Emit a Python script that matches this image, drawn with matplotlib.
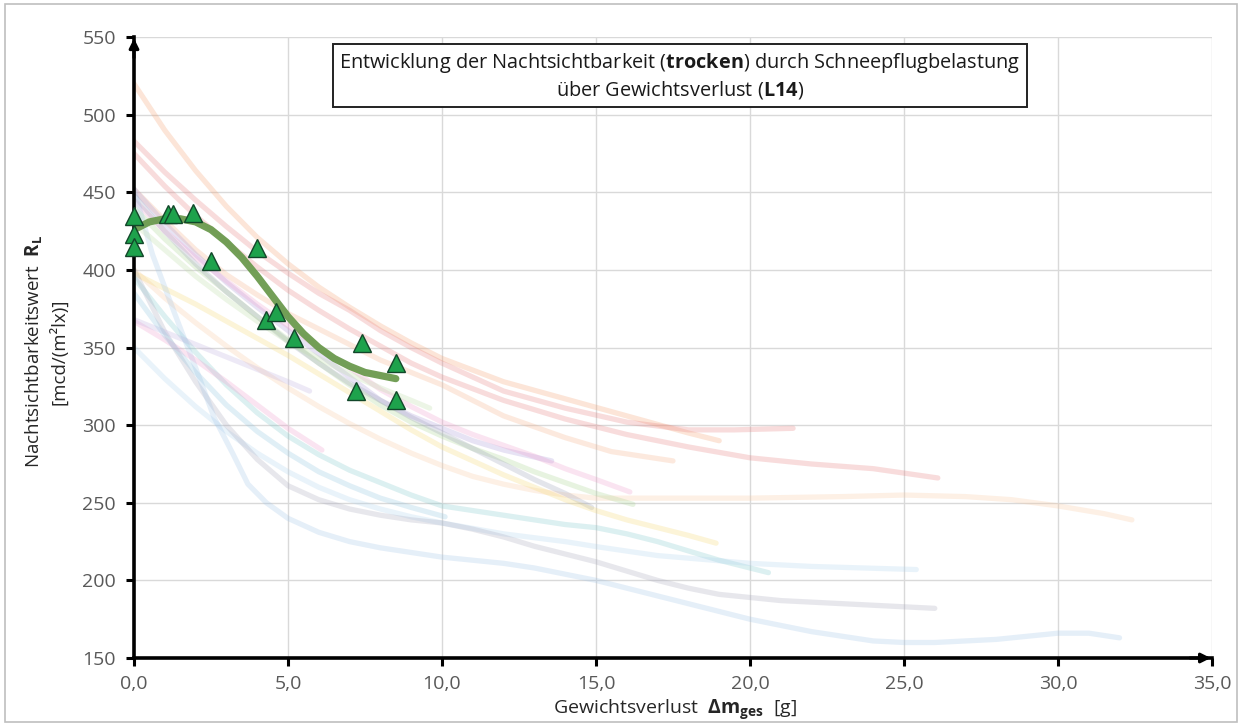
import matplotlib
matplotlib.use('Agg')
import matplotlib.pyplot as plt
from matplotlib.patches import Rectangle

plt.rcParams['font.family'] = ['Open Sans', 'DejaVu Sans']
plt.rcParams['mathtext.fontset'] = 'custom'
plt.rcParams['mathtext.rm'] = 'Open Sans'
plt.rcParams['mathtext.bf'] = 'Open Sans:bold'

# measured points L14 (dry)
mess_x = [0.0, 0.0, 0.0, 1.1, 1.25, 1.9, 2.5, 4.0, 4.3, 4.6, 5.2, 7.4, 7.2, 8.5, 8.5]
mess_y = [435, 423, 415, 436, 436, 437, 406, 414, 368, 373, 356, 353, 322, 340, 316]

# trend line L14
trend_x = [0.0, 0.5, 1.0, 1.5, 2.0, 2.5, 3.0, 3.5, 4.0, 4.5, 5.0, 5.5, 6.0, 6.5, 7.0, 7.5, 8.0, 8.5]
trend_y = [426, 431, 433, 433, 431, 426, 418, 408, 396, 383, 370, 359, 350, 343, 338, 334, 332, 330]

# other (faded) curves
kurven_x = {
    'orange_oben': [0, 1, 2, 3, 4, 5, 6, 7, 8, 9, 10, 12, 14, 16, 18, 19],
    'rot_a': [0, 1, 2, 3, 4, 5, 6, 7, 8, 9, 10, 12, 14, 16, 18, 19.5, 21.4],
    'rot_b': [0, 1, 2, 3, 4, 5, 6, 7, 8, 9, 10, 12, 14, 16, 18, 20, 22, 24, 26.1],
    'orange_mitte': [0, 1, 2, 3, 4, 5, 6, 7, 8, 9, 10, 12, 14, 15.5, 17.5],
    'orange_lang': [0, 1, 2, 3, 4, 5, 6, 7, 8, 9, 10, 11, 12, 13, 14, 15, 17, 20, 23, 25,
                    27, 28.5, 30, 31.5, 32.4],
    'lila': [0, 1, 2, 3, 4, 5, 6, 7, 8, 9, 10, 11, 12, 13.56],
    'rosa_a': [0, 1, 2, 3, 4, 5, 6, 7, 8, 9, 10, 11, 12, 13, 14, 15, 16.1],
    'gruen': [0, 1, 2, 3, 4, 5, 6, 7, 8, 9, 10, 11, 12, 13, 14, 15, 16.2],
    'grau_a': [0, 1, 2, 3, 4, 5, 6, 7, 8, 9, 10, 11, 12, 13, 14, 14.86],
    'gelb': [0, 1, 2, 3, 4, 5, 6, 7, 8, 9, 10, 11, 12, 13, 14, 15, 16, 17, 18, 18.9],
    'tuerkis': [0, 1, 2, 3, 4, 5, 6, 7, 8, 9, 10, 11, 12, 13, 14, 15, 16, 17, 18, 19, 20.6],
    'hellblau': [0, 1, 2, 3, 4, 5, 6, 7, 8, 9, 10, 12, 14, 15.1, 17, 20, 22, 25.4],
    'grau_b': [0, 1, 2, 3, 4, 5, 6, 7, 8, 9, 10, 11, 12, 13, 14, 15, 16, 17, 18, 19, 20,
               21, 22, 23, 24, 25, 26],
    'blau_unten': [0, 0.6, 1.3, 2, 2.6, 3.2, 3.7, 4.3, 5, 6, 7, 8, 9, 10, 11, 12, 13, 14, 15,
                   16, 17, 18, 19, 20, 21, 22, 23, 24, 25, 26, 27, 28, 29, 30, 31, 32],
    'rosa_kurz': [0, 1, 2, 3, 4, 5, 6.1],
    'gruen_kurz': [0, 1, 2, 3, 4, 5, 6, 7, 8, 9, 9.6],
    'lila_kurz': [0, 1, 2, 3, 4, 5, 5.7],
    'blau_kurz': [0, 1, 2, 3, 4, 5, 6, 7, 8, 9, 10.1],
}
kurven_y = {
    'orange_oben': [520, 490, 464, 441, 421, 404, 389, 376, 364, 353, 343, 328, 317, 306, 295, 290],
    'rot_a': [483, 463, 445, 428, 412, 398, 385, 374, 361, 350, 340, 322, 311, 302, 297, 297, 298],
    'rot_b': [475, 454, 435, 418, 402, 387, 374, 362, 351, 340, 331, 316, 304, 294, 286, 279,
              275, 272, 266],
    'orange_mitte': [452, 432, 413, 397, 384, 372, 362, 352, 342, 334, 326, 306, 292, 283, 277],
    'orange_lang': [400, 382, 366, 351, 337, 324, 312, 301, 291, 282, 274, 267, 262, 258, 255,
                    253, 253, 253, 254, 255, 254, 252, 248, 243, 239],
    'lila': [452, 430, 410, 392, 376, 361, 346, 331, 316, 306, 298, 290, 284, 277],
    'rosa_a': [445, 425, 408, 393, 378, 364, 350, 337, 323, 312, 302, 294, 287, 280, 272, 265, 257],
    'gruen': [440, 420, 402, 386, 370, 355, 340, 326, 313, 302, 293, 285, 278, 270, 263, 256, 249],
    'grau_a': [448, 425, 404, 386, 370, 354, 340, 327, 316, 305, 295, 285, 275, 265, 256, 247],
    'gelb': [398, 388, 378, 367, 356, 345, 333, 321, 309, 297, 286, 277, 268, 260, 252, 245, 239,
             234, 229, 224],
    'tuerkis': [395, 370, 347, 326, 308, 293, 281, 271, 263, 255, 248, 245, 242, 239, 236, 234,
                230, 225, 219, 213, 205],
    'hellblau': [350, 330, 312, 296, 282, 270, 260, 252, 246, 241, 237, 230, 225, 221.5, 216,
                 211, 209, 207],
    'grau_b': [400, 360, 328, 300, 278, 261, 252, 246, 242, 239, 237, 233, 228, 222, 217, 212,
               206, 200, 195, 191, 189, 187, 186, 185, 184, 183, 182],
    'blau_unten': [452, 410, 373, 337, 305, 282, 262, 250, 240, 231, 225, 221, 218, 215, 213,
                   211, 208, 204, 200, 195, 190, 185, 180, 175, 171, 167, 164, 161, 160, 160,
                   161, 162, 164, 166, 166, 163],
    'rosa_kurz': [367, 355, 342, 328, 313, 298, 284],
    'gruen_kurz': [430, 413, 396, 381, 367, 354, 343, 333, 324, 316, 311],
    'lila_kurz': [368, 360, 352, 344, 336, 328, 322],
    'blau_kurz': [385, 358, 334, 313, 296, 282, 270, 261, 253, 247, 241],
}
kurven_farbe = {
    'orange_oben': '#f4a070', 'rot_a': '#e88080', 'rot_b': '#e88080',
    'orange_mitte': '#f6b088', 'orange_lang': '#f9c8a0', 'lila': '#a898d8',
    'rosa_a': '#f09ccc', 'gruen': '#a8d490', 'grau_a': '#9aa0b8',
    'gelb': '#f4d870', 'tuerkis': '#80c8cc', 'hellblau': '#b0d4ee',
    'grau_b': '#a8a8bc', 'blau_unten': '#a0c4e8', 'rosa_kurz': '#f09ccc',
    'gruen_kurz': '#bcdca4', 'lila_kurz': '#c0b0e0', 'blau_kurz': '#90c4e0',
}

x_ticks = [0, 5, 10, 15, 20, 25, 30, 35]
y_ticks = [150, 200, 250, 300, 350, 400, 450, 500, 550]

fig = plt.figure(figsize=(12.42, 7.25), dpi=100)
ax = fig.add_axes([0.1079, 0.0924, 0.8679, 0.8563])

for k in kurven_x:
    ax.plot(kurven_x[k], kurven_y[k], color=kurven_farbe[k], lw=3.8, alpha=0.27,
            solid_capstyle='round', solid_joinstyle='round', zorder=2)

ax.plot(trend_x, trend_y, color='#6b9a4e', lw=5.2, alpha=0.95,
        solid_capstyle='round', solid_joinstyle='round', zorder=3)
ax.plot(mess_x, mess_y, ls='none', marker='^', ms=13, mfc='#1ea24c',
        mec='#12472a', mew=1.0, zorder=4, clip_on=False)

ax.set_xlim(0, 35)
ax.set_ylim(150, 550)
ax.set_xticks(x_ticks)
ax.set_yticks(y_ticks)
ax.set_xticklabels([('%.1f' % v).replace('.', ',') for v in x_ticks])
ax.grid(True, color='#d9d9d9', lw=1.0)
ax.set_axisbelow(True)

for s in ['top', 'right']:
    ax.spines[s].set_visible(False)
for s in ['left', 'bottom']:
    ax.spines[s].set_linewidth(2.6)
    ax.spines[s].set_color('black')
ax.tick_params(axis='both', direction='out', length=6, width=2.2, color='black',
               labelsize=14, labelcolor='#595959')
ax.tick_params(axis='y', pad=7)
ax.tick_params(axis='x', pad=6)

# arrow heads
ax.annotate('', xy=(0, 551), xytext=(0, 535), xycoords='data',
            arrowprops=dict(arrowstyle='-|>', color='black', lw=2.2, mutation_scale=14),
            annotation_clip=False)
ax.annotate('', xy=(35.05, 150), xytext=(34.2, 150), xycoords='data',
            arrowprops=dict(arrowstyle='-|>', color='black', lw=2.2, mutation_scale=14),
            annotation_clip=False)

titel = ('Entwicklung der Nachtsichtbarkeit ($\\mathbf{trocken}$) durch Schneepflugbelastung\n'
         'über Gewichtsverlust ($\\mathbf{L14}$)')
fig.text(0.5475, 0.895, titel, ha='center', va='center', multialignment='center',
         fontsize=14.3, color='#1a1a1a', linespacing=1.2,
         bbox=dict(boxstyle='square,pad=0.3', fc='white', ec='#222222', lw=1.4))

fig.text(0.028, 0.515, 'Nachtsichtbarkeitswert  $\\mathbf{R}_{\\mathbf{L}}$',
         rotation=90, ha='center', va='center', fontsize=13.5, color='#262626')
fig.text(0.047, 0.515, '[mcd/(m²lx)]', rotation=90, ha='center', va='center',
         fontsize=13.5, color='#262626')
fig.text(0.543, 0.022, 'Gewichtsverlust  $\\mathbf{\\Delta m}_{\\mathbf{ges}}$  [g]',
         ha='center', va='center', fontsize=14, color='#262626')

fig.patches.append(Rectangle((0.004, 0.004), 0.992, 0.99, transform=fig.transFigure,
                             fill=False, ec='#bfbfbf', lw=1.2))

fig.savefig('out.png', dpi=100)
